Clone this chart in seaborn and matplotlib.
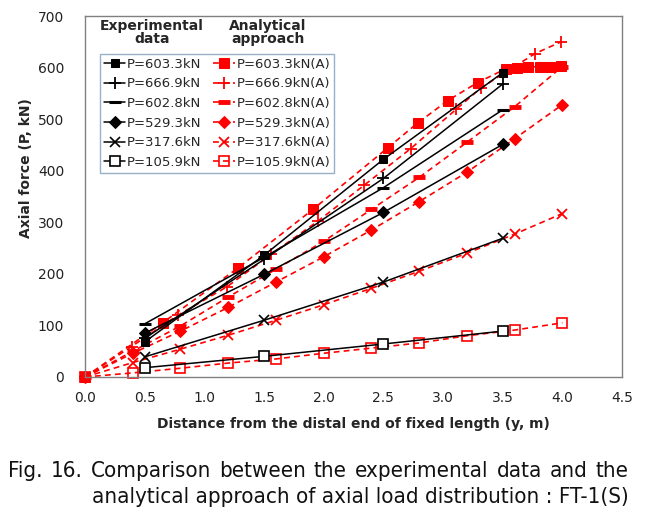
import numpy as np
import pandas as pd
import matplotlib
matplotlib.use("Agg")
import matplotlib.pyplot as plt
import seaborn as sns

# Dados experimentais (linhas pretas)
x_exp = [0.5, 1.5, 2.5, 3.5]
exp_603 = [68, 236, 422, 590]
exp_667 = [75, 228, 385, 568]
exp_603b = [103, 232, 367, 518]
exp_529 = [85, 199, 319, 451]
exp_318 = [39, 110, 184, 269]
exp_106 = [18, 40, 64, 89]

# Abordagem analitica (linhas vermelhas tracejadas)
x_a603 = [0.0, 0.65, 1.28, 1.91, 2.54, 2.79, 3.04, 3.29, 3.53, 3.62, 3.71, 3.81, 3.9, 3.99]
a_603 = [0, 105, 211, 325, 445, 493, 536, 571, 598, 600, 601, 602, 602, 603]
x_a667 = [0.0, 0.39, 0.78, 1.19, 1.56, 1.95, 2.34, 2.73, 3.11, 3.32, 3.77, 3.99]
a_667 = [0, 59, 120, 175, 238, 302, 372, 443, 519, 561, 627, 650]
x_std = [0.0, 0.4, 0.8, 1.2, 1.6, 2.0, 2.4, 2.8, 3.2, 3.6, 4.0]
a_603b = [0, 50, 99, 155, 209, 263, 325, 387, 455, 524, 602]
a_529 = [0, 46, 89, 135, 184, 233, 285, 340, 397, 462, 528]
a_318 = [0, 28, 54, 81, 110, 140, 172, 205, 240, 277, 317]
a_106 = [0, 8, 17, 27, 35, 46, 56, 66, 80, 91, 105]

labels_exp = ["P=603.3kN", "P=666.9kN", "P=602.8kN", "P=529.3kN", "P=317.6kN", "P=105.9kN"]
labels_ana = [l + "(A)" for l in labels_exp]

caption_1 = "Fig. 16. Comparison between the experimental data and the"
caption_2 = "analytical approach of axial load distribution : FT-1(S)"

sns.set_theme(style="white")
plt.rcParams["font.family"] = ["DejaVu Sans"]

fig = plt.figure(figsize=(6.5, 5.17), dpi=100)
ax = fig.add_axes([85 / 650, 1 - 377 / 517, 537 / 650, 361 / 517])

# estilos dos marcadores
mk_exp = [
    dict(marker="s", ms=6, mfc="black", mec="black"),
    dict(marker="+", ms=9, mew=1.3, mec="black"),
    dict(marker="_", ms=9, mew=2.2, mec="black"),
    dict(marker="D", ms=6, mfc="black", mec="black"),
    dict(marker="x", ms=7, mew=1.2, mec="black"),
    dict(marker="s", ms=7, mfc="white", mec="black", mew=1.2),
]
mk_ana = [
    dict(marker="s", ms=7.5, mfc="red", mec="red"),
    dict(marker="+", ms=9, mew=1.3, mec="red"),
    dict(marker="_", ms=8, mew=3.5, mec="red"),
    dict(marker="D", ms=6, mfc="red", mec="red"),
    dict(marker="x", ms=6.5, mew=1.3, mec="red"),
    dict(marker="s", ms=7.5, mfc="none", mec="red", mew=1.2),
]

series_exp = [exp_603, exp_667, exp_603b, exp_529, exp_318, exp_106]
series_ana = [(x_a603, a_603), (x_a667, a_667), (x_std, a_603b),
              (x_std, a_529), (x_std, a_318), (x_std, a_106)]

# primeiro as analiticas (ficam por baixo)
for (xs, ys), lab, mk in zip(series_ana, labels_ana, mk_ana):
    sns.lineplot(x=xs, y=ys, ax=ax, color="red", linestyle=(0, (3.5, 2.5)),
                 linewidth=1.2, estimator=None, sort=False, label=lab,
                 clip_on=False, **mk)

for ys, lab, mk in zip(series_exp, labels_exp, mk_exp):
    sns.lineplot(x=x_exp, y=ys, ax=ax, color="black", linestyle="-",
                 linewidth=1.1, estimator=None, sort=False, label=lab,
                 clip_on=False, **mk)

ax.set_xlim(0, 4.5)
ax.set_ylim(0, 700)
ax.set_xticks(np.arange(0, 4.51, 0.5))
ax.set_xticklabels([f"{v:.1f}" for v in np.arange(0, 4.51, 0.5)])
ax.set_yticks(range(0, 701, 100))

for s in ax.spines.values():
    s.set_color("#808080")
    s.set_linewidth(1.0)
ax.tick_params(direction="in", length=4, width=1, color="#808080",
               labelsize=10, labelcolor="#222222")
ax.tick_params(axis="x", pad=10)
ax.tick_params(axis="y", pad=15)

ax.set_xlabel("Distance from the distal end of fixed length (y, m)",
              fontsize=10, fontweight="bold", labelpad=9)
ax.set_ylabel("Axial force (P, kN)", fontsize=10, fontweight="bold")
ax.yaxis.set_label_coords(-0.097, 0.58)

# legenda em duas colunas: experimental | analitica
handles, labels = ax.get_legend_handles_labels()
order = [labels.index(l) for l in labels_exp + labels_ana]
leg = ax.legend([handles[i] for i in order], [labels[i] for i in order],
                ncol=2, loc="upper left", bbox_to_anchor=(0.028, 0.895),
                borderaxespad=0, fontsize=9.5, handlelength=1.6,
                handletextpad=0.15, columnspacing=0.9, labelspacing=0.5,
                borderpad=0.3, frameon=True, fancybox=False)
leg.get_frame().set_edgecolor("#7f9db9")
leg.get_frame().set_linewidth(1.0)

ax.text(0.125, 0.955, "Experimental\ndata", transform=ax.transAxes,
        ha="center", va="center", fontsize=10, fontweight="bold",
        linespacing=0.95)
ax.text(0.34, 0.955, "Analytical\napproach", transform=ax.transAxes,
        ha="center", va="center", fontsize=10, fontweight="bold",
        linespacing=0.95)

# legenda da figura (primeira linha justificada palavra a palavra)
cap_kw = dict(fontsize=16, family="DejaVu Sans", fontstretch="condensed",
              color="#111111", va="baseline")
renderer = fig.canvas.get_renderer()
words = caption_1.split(" ")
objs = [fig.text(0, 1 - 477 / 517, w, ha="left", **cap_kw) for w in words]
widths = [t.get_window_extent(renderer).width for t in objs]
x0, x1 = 8, 629
gap = (x1 - x0 - sum(widths)) / (len(words) - 1)
pos = x0
for t, w in zip(objs, widths):
    t.set_x(pos / 650)
    pos += w + gap

fig.text(629 / 650, 1 - 503 / 517, caption_2, ha="right", **cap_kw)

fig.savefig("out.png", dpi=100)
